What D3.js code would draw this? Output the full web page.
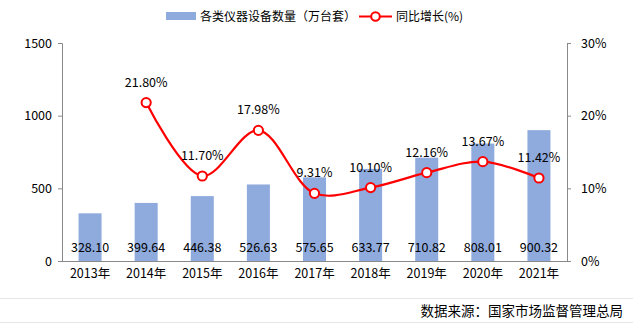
<!DOCTYPE html>
<html><head><meta charset="utf-8">
<script src="https://cdn.jsdelivr.net/npm/d3@7"></script>
<style>body{margin:0;background:#fff}svg{display:block}text{font-family:"Microsoft YaHei","Noto Sans CJK SC",sans-serif}</style>
</head><body><svg id="c" width="633" height="327"></svg>
<script>
const years = ["2013年","2014年","2015年","2016年","2017年","2018年","2019年","2020年","2021年"];
const devices = [328.10,399.64,446.38,526.63,575.65,633.77,710.82,808.01,900.32];
const growthYears = ["2014年","2015年","2016年","2017年","2018年","2019年","2020年","2021年"];
const growth = [21.80,11.70,17.98,9.31,10.10,12.16,13.67,11.42];
const leftTicks = [0,500,1000,1500];
const rightTicks = [0,10,20,30];

const svg = d3.select("#c");
const L=62, R=567, T=43, B=261;
const x = d3.scaleBand().domain(years).range([L,R]).paddingInner(0.59).paddingOuter(0.295);
const yL = d3.scaleLinear().domain([0,1500]).range([B,T]);
const yR = d3.scaleLinear().domain([0,30]).range([B,T]);
const fs = "12.5px";

// bars
svg.selectAll("rect.bar").data(devices).join("rect")
  .attr("x",(d,i)=>x(years[i])).attr("width",x.bandwidth())
  .attr("y",d=>yL(d)).attr("height",d=>B-yL(d)).attr("fill","#8faadc");

// axes
const gl = svg.append("g").attr("transform",`translate(${L},0)`)
  .call(d3.axisLeft(yL).tickValues(leftTicks).tickSize(4).tickPadding(6).tickFormat(d=>String(d)));
const gr = svg.append("g").attr("transform",`translate(${R},0)`)
  .call(d3.axisRight(yR).tickValues(rightTicks).tickSize(4).tickPadding(10).tickFormat(d=>d+"%"));
const gb = svg.append("g").attr("transform",`translate(0,${B})`)
  .call(d3.axisBottom(x).tickSize(0).tickPadding(8));
[gl,gr,gb].forEach(g=>{
  g.select(".domain").attr("stroke","#898989");
  g.selectAll(".tick line").attr("stroke","#898989");
  g.selectAll("text").attr("fill","#000").style("font-size",fs).style("font-family",'"Microsoft YaHei","Noto Sans CJK SC",sans-serif');
});
gb.select(".domain").attr("d",`M${L},0.5H${R}`);

// bar labels
svg.selectAll("text.bl").data(devices).join("text")
  .attr("x",(d,i)=>x(years[i])+x.bandwidth()/2).attr("y",252)
  .attr("text-anchor","middle").style("font-size",fs).attr("fill","#000")
  .text(d=>d.toFixed(2));

// line
const cx = (i)=>x(growthYears[i])+x.bandwidth()/2;
const line = d3.line().x((d,i)=>cx(i)).y(d=>yR(d)).curve(d3.curveCatmullRom.alpha(0.5));
svg.append("path").datum(growth).attr("d",line).attr("fill","none").attr("stroke","#ff0000").attr("stroke-width",2.2);
svg.selectAll("circle.pt").data(growth).join("circle")
  .attr("cx",(d,i)=>cx(i)).attr("cy",d=>yR(d)).attr("r",4.6)
  .attr("fill","#fff").attr("stroke","#ff0000").attr("stroke-width",2);
svg.selectAll("text.pl").data(growth).join("text")
  .attr("x",(d,i)=>cx(i)).attr("y",d=>yR(d)-16)
  .attr("text-anchor","middle").style("font-size",fs).attr("fill","#000")
  .text(d=>d.toFixed(2)+"%");

// legend
svg.append("rect").attr("x",166).attr("y",12).attr("width",30).attr("height",8).attr("fill","#8faadc");
svg.append("text").attr("x",200).attr("y",21).style("font-size","12px").text("各类仪器设备数量（万台套）");
svg.append("line").attr("x1",359).attr("x2",392).attr("y1",16.5).attr("y2",16.5).attr("stroke","#ff0000").attr("stroke-width",2.2);
svg.append("circle").attr("cx",375.5).attr("cy",16.5).attr("r",4.3).attr("fill","#fff").attr("stroke","#ff0000").attr("stroke-width",2);
svg.append("text").attr("x",396).attr("y",21).style("font-size","12px").text("同比增长(%)");

// source
svg.append("line").attr("x1",0).attr("x2",633).attr("y1",298.5).attr("y2",298.5).attr("stroke","#e6e6e6");
svg.append("line").attr("x1",0).attr("x2",633).attr("y1",322.5).attr("y2",322.5).attr("stroke","#e6e6e6");
svg.append("text").attr("x",623).attr("y",316).attr("text-anchor","end").style("font-size","13.5px").attr("fill","#000").text("数据来源：国家市场监督管理总局");
</script></body></html>
